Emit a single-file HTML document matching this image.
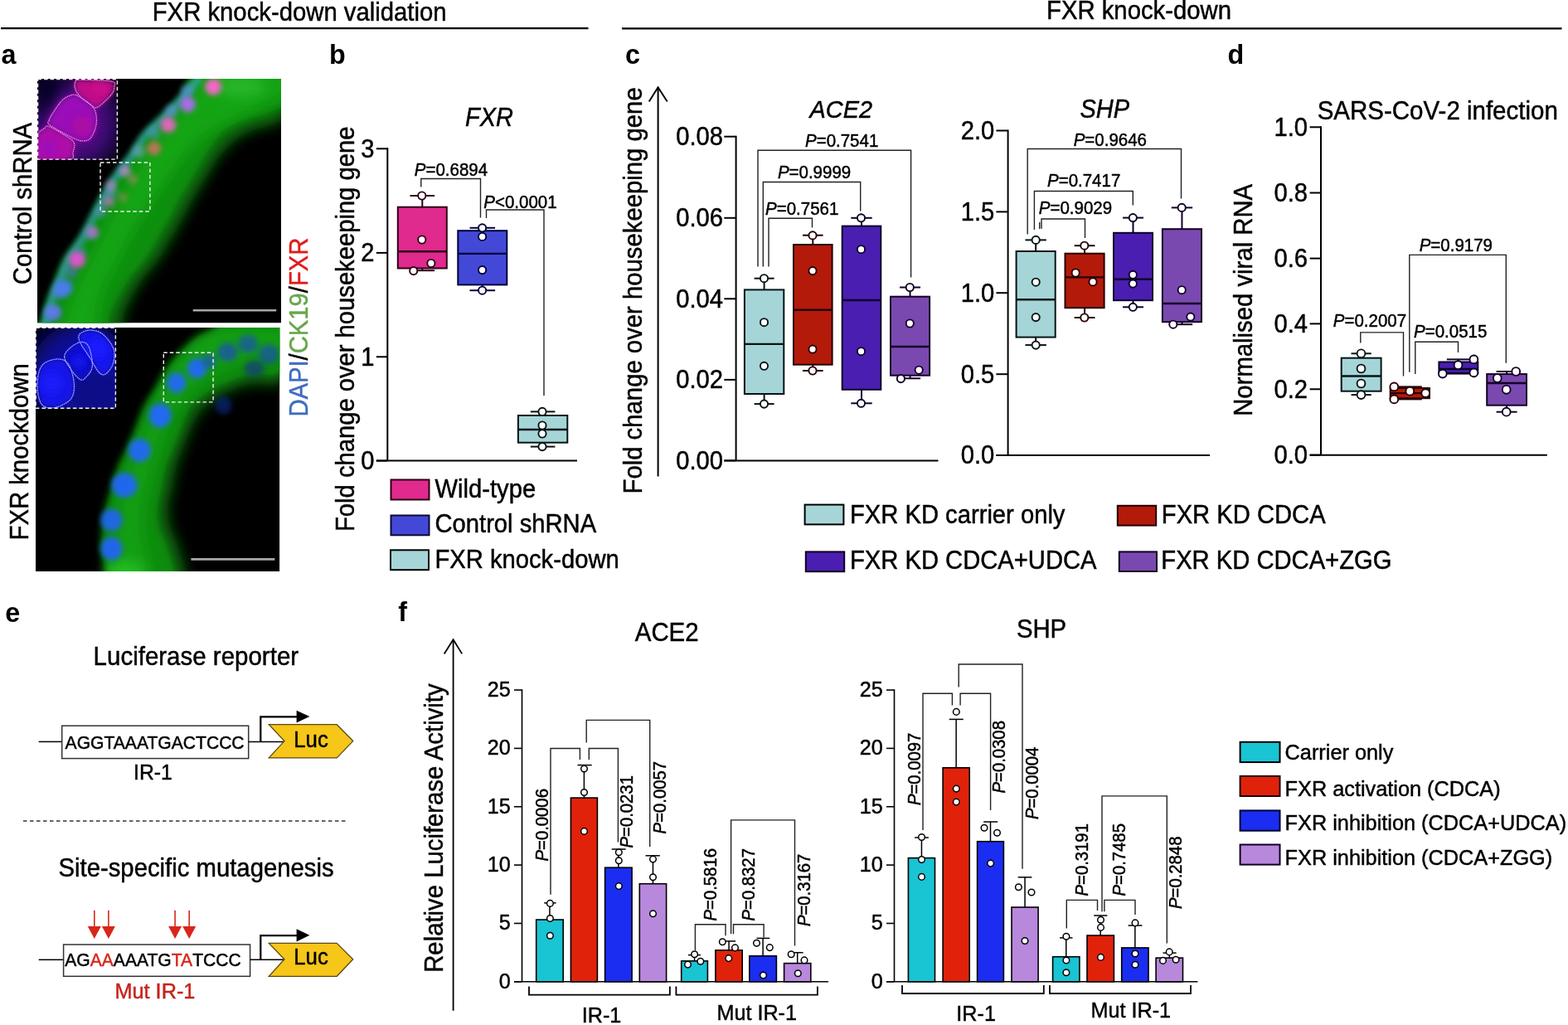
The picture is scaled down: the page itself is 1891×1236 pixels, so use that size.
<!DOCTYPE html>
<html><head><meta charset="utf-8"><title>FXR knock-down figure</title>
<style>
html,body{margin:0;padding:0;background:#fff;}
body{width:1891px;height:1236px;overflow:hidden;}
svg{display:block;}
text{font-family:"Liberation Sans", Arial, Helvetica, sans-serif;}
</style></head>
<body>
<svg width="1891" height="1236" viewBox="0 0 1891 1236" fill="#000">
<rect x="0" y="0" width="1891" height="1236" fill="#fff"/>
<text transform="translate(183.7,24.6) scale(1,1.05)" font-size="29.3" stroke="#000" stroke-width="0.45">FXR knock-down validation</text>
<line x1="1" y1="34.2" x2="709.5" y2="34.2" stroke="#000" stroke-width="2.2"/>
<text transform="translate(1262,23.2) scale(1,1.05)" font-size="29.3" stroke="#000" stroke-width="0.45">FXR knock-down</text>
<line x1="750" y1="34.4" x2="1883.5" y2="34.4" stroke="#000" stroke-width="2.2"/>
<text transform="translate(1.5,77.3) scale(1,1.05)" font-size="32.3" font-weight="bold">a</text>
<text transform="translate(397,77.3) scale(1,1.05)" font-size="32.3" font-weight="bold">b</text>
<text transform="translate(754,76.9) scale(1,1.05)" font-size="32.3" font-weight="bold">c</text>
<text transform="translate(1480.5,76.9) scale(1,1.05)" font-size="32.3" font-weight="bold">d</text>
<text transform="translate(6.3,750) scale(1,1.05)" font-size="32.3" font-weight="bold">e</text>
<text transform="translate(480.3,749) scale(1,1.05)" font-size="32.3" font-weight="bold">f</text>
<line x1="467.3" y1="178.3" x2="467.3" y2="555.6" stroke="#000" stroke-width="2"/>
<line x1="453.8" y1="555.6" x2="696" y2="555.6" stroke="#000" stroke-width="2"/>
<line x1="453.8" y1="179.3" x2="467.3" y2="179.3" stroke="#000" stroke-width="2"/>
<text transform="translate(451.5,189.7) scale(1,1.05)" font-size="29.2" text-anchor="end" stroke="#000" stroke-width="0.45">3</text>
<line x1="453.8" y1="304.9" x2="467.3" y2="304.9" stroke="#000" stroke-width="2"/>
<text transform="translate(451.5,315.3) scale(1,1.05)" font-size="29.2" text-anchor="end" stroke="#000" stroke-width="0.45">2</text>
<line x1="453.8" y1="430.3" x2="467.3" y2="430.3" stroke="#000" stroke-width="2"/>
<text transform="translate(451.5,440.7) scale(1,1.05)" font-size="29.2" text-anchor="end" stroke="#000" stroke-width="0.45">1</text>
<line x1="453.8" y1="555.6" x2="467.3" y2="555.6" stroke="#000" stroke-width="2"/>
<text transform="translate(451.5,566) scale(1,1.05)" font-size="29.2" text-anchor="end" stroke="#000" stroke-width="0.45">0</text>
<text transform="translate(561,151.8) scale(1,1.05)" font-size="29" font-style="italic" stroke="#000" stroke-width="0.45">FXR</text>
<polyline points="507.8,225.6 507.8,215.5 579.5,215.5 579.5,262.6" fill="none" stroke="#222" stroke-width="1.4"/>
<text transform="translate(499.8,212.2) scale(1,1.05)" font-size="20.5" stroke="#000" stroke-width="0.45"><tspan font-style="italic">P</tspan>=0.6894</text>
<polyline points="586.5,263 586.5,253 656,253 656,477" fill="none" stroke="#222" stroke-width="1.4"/>
<text transform="translate(583.3,251) scale(1,1.05)" font-size="20.5" stroke="#000" stroke-width="0.45"><tspan font-style="italic">P</tspan>&lt;0.0001</text>
<line x1="509.3" y1="236" x2="509.3" y2="249.7" stroke="#2e0018" stroke-width="2"/>
<line x1="509.3" y1="323.5" x2="509.3" y2="326.2" stroke="#2e0018" stroke-width="2"/>
<line x1="494.5" y1="236" x2="524.1" y2="236" stroke="#2e0018" stroke-width="2"/>
<line x1="494.5" y1="326.2" x2="524.1" y2="326.2" stroke="#2e0018" stroke-width="2"/>
<rect x="479.8" y="249.7" width="59" height="73.8" fill="#E02A8D" stroke="#2e0018" stroke-width="2"/>
<line x1="479.8" y1="303.3" x2="538.8" y2="303.3" stroke="#2e0018" stroke-width="2.4"/>
<circle cx="508.8" cy="236" r="4.6" fill="#fff" stroke="#2e0018" stroke-width="1.9"/>
<circle cx="508.8" cy="289" r="4.6" fill="#fff" stroke="#2e0018" stroke-width="1.9"/>
<circle cx="519.9" cy="317.5" r="4.6" fill="#fff" stroke="#2e0018" stroke-width="1.9"/>
<circle cx="498.7" cy="326.6" r="4.6" fill="#fff" stroke="#2e0018" stroke-width="1.9"/>
<line x1="581.8" y1="274.8" x2="581.8" y2="278.2" stroke="#00003a" stroke-width="2"/>
<line x1="581.8" y1="343.4" x2="581.8" y2="350.2" stroke="#00003a" stroke-width="2"/>
<line x1="566.5" y1="274.8" x2="597.1" y2="274.8" stroke="#00003a" stroke-width="2"/>
<line x1="566.5" y1="350.2" x2="597.1" y2="350.2" stroke="#00003a" stroke-width="2"/>
<rect x="552.3" y="278.2" width="59" height="65.2" fill="#4349D6" stroke="#00003a" stroke-width="2"/>
<line x1="552.3" y1="305.9" x2="611.3" y2="305.9" stroke="#00003a" stroke-width="2.4"/>
<circle cx="581.6" cy="274.8" r="4.6" fill="#fff" stroke="#00003a" stroke-width="1.9"/>
<circle cx="581.6" cy="285.4" r="4.6" fill="#fff" stroke="#00003a" stroke-width="1.9"/>
<circle cx="581.6" cy="325.6" r="4.6" fill="#fff" stroke="#00003a" stroke-width="1.9"/>
<circle cx="581.6" cy="350.2" r="4.6" fill="#fff" stroke="#00003a" stroke-width="1.9"/>
<line x1="654.6" y1="496.4" x2="654.6" y2="501" stroke="#061414" stroke-width="2"/>
<line x1="654.6" y1="533.7" x2="654.6" y2="538.6" stroke="#061414" stroke-width="2"/>
<line x1="639.8" y1="496.4" x2="669.4" y2="496.4" stroke="#061414" stroke-width="2"/>
<line x1="639.8" y1="538.6" x2="669.4" y2="538.6" stroke="#061414" stroke-width="2"/>
<rect x="624.9" y="501" width="59.4" height="32.7" fill="#A6D5D8" stroke="#061414" stroke-width="2"/>
<line x1="624.9" y1="518" x2="684.3" y2="518" stroke="#061414" stroke-width="2.4"/>
<circle cx="654" cy="496.4" r="4.6" fill="#fff" stroke="#061414" stroke-width="1.9"/>
<circle cx="654" cy="513" r="4.6" fill="#fff" stroke="#061414" stroke-width="1.9"/>
<circle cx="654" cy="523" r="4.6" fill="#fff" stroke="#061414" stroke-width="1.9"/>
<circle cx="654" cy="538.6" r="4.6" fill="#fff" stroke="#061414" stroke-width="1.9"/>
<text transform="translate(427,641) rotate(-90) scale(1,1.05)" font-size="29.2" stroke="#000" stroke-width="0.45">Fold change over housekeeping gene</text>
<text transform="translate(371,502.5) rotate(-90) scale(1,1.05)" font-size="29.2" stroke="#000" stroke-width="0.45"><tspan fill="#3F6CC1" stroke="#3F6CC1">DAPI</tspan>/<tspan fill="#67A64C" stroke="#67A64C">CK19</tspan>/<tspan fill="#E01B1B" stroke="#E01B1B">FXR</tspan></text>
<rect x="471.5" y="578.5" width="46" height="24" fill="#E02A8D" stroke="#2a0015" stroke-width="2"/>
<rect x="471.5" y="621.5" width="46" height="23.8" fill="#4349D6" stroke="#0a0a30" stroke-width="2"/>
<rect x="471" y="663.3" width="46" height="23.9" fill="#A6D5D8" stroke="#000" stroke-width="2"/>
<text transform="translate(524.5,600.2) scale(1,1.05)" font-size="29.2" stroke="#000" stroke-width="0.45">Wild-type</text>
<text transform="translate(524.5,641.8) scale(1,1.05)" font-size="29.2" stroke="#000" stroke-width="0.45">Control shRNA</text>
<text transform="translate(524.5,684.5) scale(1,1.05)" font-size="29.2" stroke="#000" stroke-width="0.45">FXR knock-down</text>
<line x1="793.6" y1="105.5" x2="793.6" y2="574.4" stroke="#000" stroke-width="2"/>
<polyline points="782.7,122.5 793.6,105.3 804.7,122.5" fill="none" stroke="#000" stroke-width="2"/>
<text transform="translate(773.5,595.5) rotate(-90) scale(1,1.05)" font-size="29.3" stroke="#000" stroke-width="0.45">Fold change over housekeeping gene</text>
<line x1="887.6" y1="163.7" x2="887.6" y2="555.4" stroke="#000" stroke-width="2"/>
<line x1="873.3" y1="555.4" x2="1131.5" y2="555.4" stroke="#000" stroke-width="2"/>
<line x1="873.3" y1="164.7" x2="887.6" y2="164.7" stroke="#000" stroke-width="2"/>
<text transform="translate(872,175.1) scale(1,1.05)" font-size="29.2" text-anchor="end" stroke="#000" stroke-width="0.45">0.08</text>
<line x1="873.3" y1="262.8" x2="887.6" y2="262.8" stroke="#000" stroke-width="2"/>
<text transform="translate(872,273.2) scale(1,1.05)" font-size="29.2" text-anchor="end" stroke="#000" stroke-width="0.45">0.06</text>
<line x1="873.3" y1="360.3" x2="887.6" y2="360.3" stroke="#000" stroke-width="2"/>
<text transform="translate(872,370.7) scale(1,1.05)" font-size="29.2" text-anchor="end" stroke="#000" stroke-width="0.45">0.04</text>
<line x1="873.3" y1="457.9" x2="887.6" y2="457.9" stroke="#000" stroke-width="2"/>
<text transform="translate(872,468.3) scale(1,1.05)" font-size="29.2" text-anchor="end" stroke="#000" stroke-width="0.45">0.02</text>
<line x1="873.3" y1="555.4" x2="887.6" y2="555.4" stroke="#000" stroke-width="2"/>
<text transform="translate(872,565.8) scale(1,1.05)" font-size="29.2" text-anchor="end" stroke="#000" stroke-width="0.45">0.00</text>
<text transform="translate(976.5,141.9) scale(1,1.05)" font-size="28.9" font-style="italic" stroke="#000" stroke-width="0.45">ACE2</text>
<polyline points="914,321.4 914,181.2 1098.6,181.2 1098.6,334.4" fill="none" stroke="#222" stroke-width="1.4"/>
<text transform="translate(971,177.3) scale(1,1.05)" font-size="20.5" stroke="#000" stroke-width="0.45"><tspan font-style="italic">P</tspan>=0.7541</text>
<polyline points="920.3,321.4 920.3,219.5 1037.7,219.5 1037.7,254.5" fill="none" stroke="#222" stroke-width="1.4"/>
<text transform="translate(937.9,215.4) scale(1,1.05)" font-size="20.5" stroke="#000" stroke-width="0.45"><tspan font-style="italic">P</tspan>=0.9999</text>
<polyline points="927,321.4 927,263.3 979.5,263.3 979.5,274.4" fill="none" stroke="#222" stroke-width="1.4"/>
<text transform="translate(923.1,259) scale(1,1.05)" font-size="20.5" stroke="#000" stroke-width="0.45"><tspan font-style="italic">P</tspan>=0.7561</text>
<line x1="921.6" y1="335.7" x2="921.6" y2="349.4" stroke="#061414" stroke-width="2"/>
<line x1="921.6" y1="475" x2="921.6" y2="487.1" stroke="#061414" stroke-width="2"/>
<line x1="909.6" y1="335.7" x2="933.6" y2="335.7" stroke="#061414" stroke-width="2"/>
<line x1="909.6" y1="487.1" x2="933.6" y2="487.1" stroke="#061414" stroke-width="2"/>
<rect x="897.9" y="349.4" width="47.4" height="125.6" fill="#A6D5D8" stroke="#061414" stroke-width="2"/>
<line x1="897.9" y1="414.9" x2="945.3" y2="414.9" stroke="#061414" stroke-width="2.4"/>
<circle cx="921.5" cy="335.7" r="4.6" fill="#fff" stroke="#061414" stroke-width="1.9"/>
<circle cx="921.5" cy="388.7" r="4.6" fill="#fff" stroke="#061414" stroke-width="1.9"/>
<circle cx="921.5" cy="441.3" r="4.6" fill="#fff" stroke="#061414" stroke-width="1.9"/>
<circle cx="921.5" cy="487.1" r="4.6" fill="#fff" stroke="#061414" stroke-width="1.9"/>
<line x1="980.3" y1="283.7" x2="980.3" y2="295" stroke="#260000" stroke-width="2"/>
<line x1="980.3" y1="439.7" x2="980.3" y2="447" stroke="#260000" stroke-width="2"/>
<line x1="968" y1="283.7" x2="992.6" y2="283.7" stroke="#260000" stroke-width="2"/>
<line x1="968" y1="447" x2="992.6" y2="447" stroke="#260000" stroke-width="2"/>
<rect x="957" y="295" width="46.6" height="144.7" fill="#B31A0A" stroke="#260000" stroke-width="2"/>
<line x1="957" y1="373.7" x2="1003.6" y2="373.7" stroke="#260000" stroke-width="2.4"/>
<circle cx="980" cy="283.9" r="4.6" fill="#fff" stroke="#260000" stroke-width="1.9"/>
<circle cx="980" cy="326.6" r="4.6" fill="#fff" stroke="#260000" stroke-width="1.9"/>
<circle cx="980" cy="421.1" r="4.6" fill="#fff" stroke="#260000" stroke-width="1.9"/>
<circle cx="980" cy="447" r="4.6" fill="#fff" stroke="#260000" stroke-width="1.9"/>
<line x1="1039" y1="262.8" x2="1039" y2="272.6" stroke="#0c0028" stroke-width="2"/>
<line x1="1039" y1="469.8" x2="1039" y2="486.3" stroke="#0c0028" stroke-width="2"/>
<line x1="1026.3" y1="262.8" x2="1051.7" y2="262.8" stroke="#0c0028" stroke-width="2"/>
<line x1="1026.3" y1="486.3" x2="1051.7" y2="486.3" stroke="#0c0028" stroke-width="2"/>
<rect x="1015.7" y="272.6" width="46.6" height="197.2" fill="#4A1EB0" stroke="#0c0028" stroke-width="2"/>
<line x1="1015.7" y1="362" x2="1062.3" y2="362" stroke="#0c0028" stroke-width="2.4"/>
<circle cx="1038.5" cy="262.8" r="4.6" fill="#fff" stroke="#0c0028" stroke-width="1.9"/>
<circle cx="1038.5" cy="300.7" r="4.6" fill="#fff" stroke="#0c0028" stroke-width="1.9"/>
<circle cx="1038.5" cy="423.7" r="4.6" fill="#fff" stroke="#0c0028" stroke-width="1.9"/>
<circle cx="1038.5" cy="486.3" r="4.6" fill="#fff" stroke="#0c0028" stroke-width="1.9"/>
<line x1="1097.55" y1="346.5" x2="1097.55" y2="357.7" stroke="#140028" stroke-width="2"/>
<line x1="1097.55" y1="452.7" x2="1097.55" y2="456.3" stroke="#140028" stroke-width="2"/>
<line x1="1085.05" y1="346.5" x2="1110.05" y2="346.5" stroke="#140028" stroke-width="2"/>
<line x1="1085.05" y1="456.3" x2="1110.05" y2="456.3" stroke="#140028" stroke-width="2"/>
<rect x="1074" y="357.7" width="47.1" height="95" fill="#7A49AF" stroke="#140028" stroke-width="2"/>
<line x1="1074" y1="418" x2="1121.1" y2="418" stroke="#140028" stroke-width="2.4"/>
<circle cx="1097.3" cy="346.5" r="4.6" fill="#fff" stroke="#140028" stroke-width="1.9"/>
<circle cx="1097.3" cy="390" r="4.6" fill="#fff" stroke="#140028" stroke-width="1.9"/>
<circle cx="1108.2" cy="446.2" r="4.6" fill="#fff" stroke="#140028" stroke-width="1.9"/>
<circle cx="1086.4" cy="456.6" r="4.6" fill="#fff" stroke="#140028" stroke-width="1.9"/>
<line x1="1215.6" y1="156.5" x2="1215.6" y2="549" stroke="#000" stroke-width="2"/>
<line x1="1201.4" y1="549" x2="1459" y2="549" stroke="#000" stroke-width="2"/>
<line x1="1201.4" y1="157.5" x2="1215.6" y2="157.5" stroke="#000" stroke-width="2"/>
<text transform="translate(1199.3,167.9) scale(1,1.05)" font-size="29.2" text-anchor="end" stroke="#000" stroke-width="0.45">2.0</text>
<line x1="1201.4" y1="255.4" x2="1215.6" y2="255.4" stroke="#000" stroke-width="2"/>
<text transform="translate(1199.3,265.8) scale(1,1.05)" font-size="29.2" text-anchor="end" stroke="#000" stroke-width="0.45">1.5</text>
<line x1="1201.4" y1="353.2" x2="1215.6" y2="353.2" stroke="#000" stroke-width="2"/>
<text transform="translate(1199.3,363.6) scale(1,1.05)" font-size="29.2" text-anchor="end" stroke="#000" stroke-width="0.45">1.0</text>
<line x1="1201.4" y1="451.2" x2="1215.6" y2="451.2" stroke="#000" stroke-width="2"/>
<text transform="translate(1199.3,461.6) scale(1,1.05)" font-size="29.2" text-anchor="end" stroke="#000" stroke-width="0.45">0.5</text>
<line x1="1201.4" y1="549" x2="1215.6" y2="549" stroke="#000" stroke-width="2"/>
<text transform="translate(1199.3,559.4) scale(1,1.05)" font-size="29.2" text-anchor="end" stroke="#000" stroke-width="0.45">0.0</text>
<text transform="translate(1302.5,141.7) scale(1,1.05)" font-size="29" font-style="italic" stroke="#000" stroke-width="0.45">SHP</text>
<polyline points="1239.2,282.6 1239.2,179.5 1424.5,179.5 1424.5,239.5" fill="none" stroke="#222" stroke-width="1.4"/>
<text transform="translate(1294.7,176) scale(1,1.05)" font-size="20.5" stroke="#000" stroke-width="0.45"><tspan font-style="italic">P</tspan>=0.9646</text>
<polyline points="1247.4,276.9 1247.4,230.5 1366.3,230.5 1366.3,247.5" fill="none" stroke="#222" stroke-width="1.4"/>
<text transform="translate(1263,225.2) scale(1,1.05)" font-size="20.5" stroke="#000" stroke-width="0.45"><tspan font-style="italic">P</tspan>=0.7417</text>
<polyline points="1256,275.8 1256,264 1308.5,264 1308.5,287.1" fill="none" stroke="#222" stroke-width="1.4"/>
<line x1="1253.7" y1="268" x2="1253.7" y2="276" stroke="#222" stroke-width="1.4"/>
<text transform="translate(1252.8,257.6) scale(1,1.05)" font-size="20.5" stroke="#000" stroke-width="0.45"><tspan font-style="italic">P</tspan>=0.9029</text>
<line x1="1249.15" y1="289.4" x2="1249.15" y2="303" stroke="#061414" stroke-width="2"/>
<line x1="1249.15" y1="406.6" x2="1249.15" y2="416.1" stroke="#061414" stroke-width="2"/>
<line x1="1236.45" y1="289.4" x2="1261.85" y2="289.4" stroke="#061414" stroke-width="2"/>
<line x1="1236.45" y1="416.1" x2="1261.85" y2="416.1" stroke="#061414" stroke-width="2"/>
<rect x="1225.6" y="303" width="47.1" height="103.6" fill="#A6D5D8" stroke="#061414" stroke-width="2"/>
<line x1="1225.6" y1="361.3" x2="1272.7" y2="361.3" stroke="#061414" stroke-width="2.4"/>
<circle cx="1249.2" cy="289.4" r="4.6" fill="#fff" stroke="#061414" stroke-width="1.9"/>
<circle cx="1249.2" cy="340.2" r="4.6" fill="#fff" stroke="#061414" stroke-width="1.9"/>
<circle cx="1249.2" cy="382.6" r="4.6" fill="#fff" stroke="#061414" stroke-width="1.9"/>
<circle cx="1249.2" cy="416.1" r="4.6" fill="#fff" stroke="#061414" stroke-width="1.9"/>
<line x1="1308.05" y1="296.2" x2="1308.05" y2="305.7" stroke="#260000" stroke-width="2"/>
<line x1="1308.05" y1="371.2" x2="1308.05" y2="383" stroke="#260000" stroke-width="2"/>
<line x1="1295.65" y1="296.2" x2="1320.45" y2="296.2" stroke="#260000" stroke-width="2"/>
<line x1="1295.65" y1="383" x2="1320.45" y2="383" stroke="#260000" stroke-width="2"/>
<rect x="1284.5" y="305.7" width="47.1" height="65.5" fill="#B31A0A" stroke="#260000" stroke-width="2"/>
<line x1="1284.5" y1="334.4" x2="1331.6" y2="334.4" stroke="#260000" stroke-width="2.4"/>
<circle cx="1307.8" cy="296.2" r="4.6" fill="#fff" stroke="#260000" stroke-width="1.9"/>
<circle cx="1297.2" cy="329" r="4.6" fill="#fff" stroke="#260000" stroke-width="1.9"/>
<circle cx="1318" cy="339.9" r="4.6" fill="#fff" stroke="#260000" stroke-width="1.9"/>
<circle cx="1307.8" cy="383" r="4.6" fill="#fff" stroke="#260000" stroke-width="1.9"/>
<line x1="1366.5" y1="262.6" x2="1366.5" y2="280.8" stroke="#0c0028" stroke-width="2"/>
<line x1="1366.5" y1="362.2" x2="1366.5" y2="370.3" stroke="#0c0028" stroke-width="2"/>
<line x1="1354" y1="262.6" x2="1379" y2="262.6" stroke="#0c0028" stroke-width="2"/>
<line x1="1354" y1="370.3" x2="1379" y2="370.3" stroke="#0c0028" stroke-width="2"/>
<rect x="1343" y="280.8" width="47" height="81.4" fill="#4A1EB0" stroke="#0c0028" stroke-width="2"/>
<line x1="1343" y1="336.7" x2="1390" y2="336.7" stroke="#0c0028" stroke-width="2.4"/>
<circle cx="1366.3" cy="262.6" r="4.6" fill="#fff" stroke="#0c0028" stroke-width="1.9"/>
<circle cx="1366.3" cy="331.3" r="4.6" fill="#fff" stroke="#0c0028" stroke-width="1.9"/>
<circle cx="1366.3" cy="342.1" r="4.6" fill="#fff" stroke="#0c0028" stroke-width="1.9"/>
<circle cx="1366.3" cy="370.3" r="4.6" fill="#fff" stroke="#0c0028" stroke-width="1.9"/>
<line x1="1425.45" y1="250.4" x2="1425.45" y2="276.2" stroke="#140028" stroke-width="2"/>
<line x1="1425.45" y1="388.2" x2="1425.45" y2="391.2" stroke="#140028" stroke-width="2"/>
<line x1="1412.75" y1="250.4" x2="1438.15" y2="250.4" stroke="#140028" stroke-width="2"/>
<line x1="1412.75" y1="391.2" x2="1438.15" y2="391.2" stroke="#140028" stroke-width="2"/>
<rect x="1401.9" y="276.2" width="47.1" height="112" fill="#7A49AF" stroke="#140028" stroke-width="2"/>
<line x1="1401.9" y1="366" x2="1449" y2="366" stroke="#140028" stroke-width="2.4"/>
<circle cx="1425.2" cy="250.4" r="4.6" fill="#fff" stroke="#140028" stroke-width="1.9"/>
<circle cx="1425.2" cy="349.7" r="4.6" fill="#fff" stroke="#140028" stroke-width="1.9"/>
<circle cx="1435.8" cy="382.1" r="4.6" fill="#fff" stroke="#140028" stroke-width="1.9"/>
<circle cx="1414.8" cy="391.2" r="4.6" fill="#fff" stroke="#140028" stroke-width="1.9"/>
<rect x="970.6" y="608.6" width="46.8" height="23.8" fill="#A6D5D8" stroke="#000" stroke-width="2"/>
<rect x="1347.8" y="609.8" width="46.4" height="23.8" fill="#B31A0A" stroke="#200005" stroke-width="2"/>
<rect x="971.8" y="665.4" width="46.4" height="23.8" fill="#4A1EB0" stroke="#100020" stroke-width="2"/>
<rect x="1349.8" y="665.4" width="45.2" height="23.6" fill="#7A49AF" stroke="#100020" stroke-width="2"/>
<text transform="translate(1025,630.5) scale(1,1.05)" font-size="29.2" stroke="#000" stroke-width="0.45">FXR KD carrier only</text>
<text transform="translate(1400.8,630.8) scale(1,1.05)" font-size="29.2" stroke="#000" stroke-width="0.45">FXR KD CDCA</text>
<text transform="translate(1025,686) scale(1,1.05)" font-size="29.2" stroke="#000" stroke-width="0.45">FXR KD CDCA+UDCA</text>
<text transform="translate(1400.3,686.2) scale(1,1.05)" font-size="29.2" stroke="#000" stroke-width="0.45">FXR KD CDCA+ZGG</text>
<line x1="1593" y1="152.3" x2="1593" y2="548.7" stroke="#000" stroke-width="2"/>
<line x1="1579.6" y1="548.7" x2="1865.8" y2="548.7" stroke="#000" stroke-width="2"/>
<line x1="1579.6" y1="153.3" x2="1593" y2="153.3" stroke="#000" stroke-width="2"/>
<text transform="translate(1577,163.7) scale(1,1.05)" font-size="29.2" text-anchor="end" stroke="#000" stroke-width="0.45">1.0</text>
<line x1="1579.6" y1="232.5" x2="1593" y2="232.5" stroke="#000" stroke-width="2"/>
<text transform="translate(1577,242.9) scale(1,1.05)" font-size="29.2" text-anchor="end" stroke="#000" stroke-width="0.45">0.8</text>
<line x1="1579.6" y1="311.6" x2="1593" y2="311.6" stroke="#000" stroke-width="2"/>
<text transform="translate(1577,322) scale(1,1.05)" font-size="29.2" text-anchor="end" stroke="#000" stroke-width="0.45">0.6</text>
<line x1="1579.6" y1="390.4" x2="1593" y2="390.4" stroke="#000" stroke-width="2"/>
<text transform="translate(1577,400.8) scale(1,1.05)" font-size="29.2" text-anchor="end" stroke="#000" stroke-width="0.45">0.4</text>
<line x1="1579.6" y1="469.3" x2="1593" y2="469.3" stroke="#000" stroke-width="2"/>
<text transform="translate(1577,479.7) scale(1,1.05)" font-size="29.2" text-anchor="end" stroke="#000" stroke-width="0.45">0.2</text>
<line x1="1579.6" y1="548.7" x2="1593" y2="548.7" stroke="#000" stroke-width="2"/>
<text transform="translate(1577,559.1) scale(1,1.05)" font-size="29.2" text-anchor="end" stroke="#000" stroke-width="0.45">0.0</text>
<text transform="translate(1588.7,143.9) scale(1,1.05)" font-size="29.5" stroke="#000" stroke-width="0.45">SARS-CoV-2 infection</text>
<text transform="translate(1509.8,501.8) rotate(-90) scale(1,1.05)" font-size="29.3" stroke="#000" stroke-width="0.45">Normalised viral RNA</text>
<polyline points="1640.8,413.5 1640.8,400.9 1692.5,400.9 1692.5,453.5" fill="none" stroke="#222" stroke-width="1.4"/>
<text transform="translate(1607.8,394) scale(1,1.05)" font-size="20.5" stroke="#000" stroke-width="0.45"><tspan font-style="italic">P</tspan>=0.2007</text>
<polyline points="1706.8,451 1706.8,412.3 1758.5,412.3 1758.5,424.9" fill="none" stroke="#222" stroke-width="1.4"/>
<text transform="translate(1705.1,407.4) scale(1,1.05)" font-size="20.5" stroke="#000" stroke-width="0.45"><tspan font-style="italic">P</tspan>=0.0515</text>
<polyline points="1699.8,448.7 1699.8,307.4 1816.3,307.4 1816.3,437.7" fill="none" stroke="#222" stroke-width="1.4"/>
<text transform="translate(1711.7,303.3) scale(1,1.05)" font-size="20.5" stroke="#000" stroke-width="0.45"><tspan font-style="italic">P</tspan>=0.9179</text>
<line x1="1641.65" y1="426.3" x2="1641.65" y2="431.7" stroke="#061414" stroke-width="2"/>
<line x1="1641.65" y1="471.7" x2="1641.65" y2="476.1" stroke="#061414" stroke-width="2"/>
<line x1="1629.55" y1="426.3" x2="1653.75" y2="426.3" stroke="#061414" stroke-width="2"/>
<line x1="1629.55" y1="476.1" x2="1653.75" y2="476.1" stroke="#061414" stroke-width="2"/>
<rect x="1617.7" y="431.7" width="47.9" height="40" fill="#A6D5D8" stroke="#061414" stroke-width="2"/>
<line x1="1617.7" y1="453.5" x2="1665.6" y2="453.5" stroke="#061414" stroke-width="2.4"/>
<circle cx="1641.5" cy="426.3" r="4.9" fill="#fff" stroke="#061414" stroke-width="1.9"/>
<circle cx="1641.5" cy="444.5" r="4.9" fill="#fff" stroke="#061414" stroke-width="1.9"/>
<circle cx="1641.5" cy="462.5" r="4.9" fill="#fff" stroke="#061414" stroke-width="1.9"/>
<circle cx="1641.5" cy="476.1" r="4.9" fill="#fff" stroke="#061414" stroke-width="1.9"/>
<line x1="1700.35" y1="466.4" x2="1700.35" y2="468" stroke="#260000" stroke-width="2"/>
<line x1="1700.35" y1="480.2" x2="1700.35" y2="481.4" stroke="#260000" stroke-width="2"/>
<line x1="1685.85" y1="466.4" x2="1714.85" y2="466.4" stroke="#260000" stroke-width="2"/>
<line x1="1685.85" y1="481.4" x2="1714.85" y2="481.4" stroke="#260000" stroke-width="2"/>
<rect x="1676.7" y="468" width="47.3" height="12.2" fill="#B31A0A" stroke="#260000" stroke-width="2"/>
<line x1="1676.7" y1="474.1" x2="1724" y2="474.1" stroke="#260000" stroke-width="2.4"/>
<circle cx="1681.3" cy="466.4" r="4.9" fill="#fff" stroke="#260000" stroke-width="1.9"/>
<circle cx="1681.3" cy="481.4" r="4.9" fill="#fff" stroke="#260000" stroke-width="1.9"/>
<circle cx="1700.3" cy="471.7" r="4.9" fill="#fff" stroke="#260000" stroke-width="1.9"/>
<circle cx="1719.2" cy="474.1" r="4.9" fill="#fff" stroke="#260000" stroke-width="1.9"/>
<line x1="1758.85" y1="433.4" x2="1758.85" y2="436.5" stroke="#0c0028" stroke-width="2"/>
<line x1="1758.85" y1="449.9" x2="1758.85" y2="450.6" stroke="#0c0028" stroke-width="2"/>
<line x1="1744.85" y1="433.4" x2="1772.85" y2="433.4" stroke="#0c0028" stroke-width="2"/>
<line x1="1744.85" y1="450.6" x2="1772.85" y2="450.6" stroke="#0c0028" stroke-width="2"/>
<rect x="1735.4" y="436.5" width="46.9" height="13.4" fill="#4A1EB0" stroke="#0c0028" stroke-width="2"/>
<line x1="1735.4" y1="445" x2="1782.3" y2="445" stroke="#0c0028" stroke-width="2.4"/>
<circle cx="1739.8" cy="450.6" r="4.9" fill="#fff" stroke="#0c0028" stroke-width="1.9"/>
<circle cx="1758.5" cy="440.2" r="4.9" fill="#fff" stroke="#0c0028" stroke-width="1.9"/>
<circle cx="1777.4" cy="433.4" r="4.9" fill="#fff" stroke="#0c0028" stroke-width="1.9"/>
<circle cx="1777.4" cy="449.4" r="4.9" fill="#fff" stroke="#0c0028" stroke-width="1.9"/>
<line x1="1817.1" y1="448" x2="1817.1" y2="451.1" stroke="#140028" stroke-width="2"/>
<line x1="1817.1" y1="488.7" x2="1817.1" y2="496.7" stroke="#140028" stroke-width="2"/>
<line x1="1804.6" y1="448" x2="1829.6" y2="448" stroke="#140028" stroke-width="2"/>
<line x1="1804.6" y1="496.7" x2="1829.6" y2="496.7" stroke="#140028" stroke-width="2"/>
<rect x="1793.2" y="451.1" width="47.8" height="37.6" fill="#7A49AF" stroke="#140028" stroke-width="2"/>
<line x1="1793.2" y1="462" x2="1841" y2="462" stroke="#140028" stroke-width="2.4"/>
<circle cx="1805.8" cy="456" r="4.9" fill="#fff" stroke="#140028" stroke-width="1.9"/>
<circle cx="1816.7" cy="469.8" r="4.9" fill="#fff" stroke="#140028" stroke-width="1.9"/>
<circle cx="1828.2" cy="448" r="4.9" fill="#fff" stroke="#140028" stroke-width="1.9"/>
<circle cx="1816.7" cy="496.7" r="4.9" fill="#fff" stroke="#140028" stroke-width="1.9"/>
<text transform="translate(112.6,802.2) scale(1,1.05)" font-size="29.5" stroke="#000" stroke-width="0.45">Luciferase reporter</text>
<text transform="translate(70.5,1057.1) scale(1,1.05)" font-size="29.3" stroke="#000" stroke-width="0.45">Site-specific mutagenesis</text>
<line x1="28" y1="990" x2="418" y2="990" stroke="#333" stroke-width="1.3" stroke-dasharray="4.5 3.5"/>
<line x1="46.7" y1="894.4" x2="74.7" y2="894.4" stroke="#000" stroke-width="1.5"/>
<rect x="74.7" y="875.2" width="225" height="39.4" fill="#fff" stroke="#333" stroke-width="1.5"/>
<line x1="299.7" y1="894.4" x2="343" y2="894.4" stroke="#000" stroke-width="1.5"/>
<polyline points="314.3,894.4 314.3,864.3 359,864.3" fill="none" stroke="#000" stroke-width="2.2"/>
<polygon points="357.6,856.7 373.4,864.1 357.6,871.5" fill="#000"/>
<text transform="translate(78.6,902.6) scale(1,1.05)" font-size="21.1" stroke="#000" stroke-width="0.45">AGGTAAATGACTCCC</text>
<polygon points="324.3,873.7 406.2,873.7 425.7,893.6 406.2,913.9 324.3,913.9 343,893.6" fill="#F6C619" stroke="#5a4a10" stroke-width="1.3"/>
<text transform="translate(354.2,900.5) scale(1,1.05)" font-size="25.8" stroke="#000" stroke-width="0.45">Luc</text>
<text transform="translate(161,940.2) scale(1,1.05)" font-size="24.8" stroke="#000" stroke-width="0.45">IR-1</text>
<line x1="46.7" y1="1157.3" x2="76.6" y2="1157.3" stroke="#000" stroke-width="1.5"/>
<rect x="76.6" y="1139" width="225" height="38.3" fill="#fff" stroke="#333" stroke-width="1.5"/>
<line x1="301.6" y1="1157.3" x2="343" y2="1157.3" stroke="#000" stroke-width="1.5"/>
<polyline points="314.3,1157.3 314.3,1128.1 359,1128.1" fill="none" stroke="#000" stroke-width="2.2"/>
<polygon points="357.6,1120.3 373.4,1127.85 357.6,1135.4" fill="#000"/>
<text transform="translate(78.2,1164.8) scale(1,1.05)" font-size="21.1" stroke="#000" stroke-width="0.45">AG<tspan fill="#D8261A" stroke="#D8261A">AA</tspan>AAATG<tspan fill="#D8261A" stroke="#D8261A">TA</tspan>TCCC</text>
<polygon points="324.3,1137.4 406.2,1137.4 425.7,1156.8 406.2,1177.3 324.3,1177.3 343,1156.8" fill="#F6C619" stroke="#5a4a10" stroke-width="1.3"/>
<text transform="translate(354.2,1163.4) scale(1,1.05)" font-size="25.8" stroke="#000" stroke-width="0.45">Luc</text>
<text transform="translate(138.4,1203.5) scale(1,1.05)" font-size="25.3" fill="#C8231A" stroke="#C8231A" stroke-width="0.45">Mut IR-1</text>
<line x1="113.8" y1="1097.7" x2="113.8" y2="1118" stroke="#D8261A" stroke-width="1.6"/>
<polygon points="105.8,1117 121.8,1117 113.8,1132" fill="#D8261A"/>
<line x1="130.9" y1="1097.7" x2="130.9" y2="1118" stroke="#D8261A" stroke-width="1.6"/>
<polygon points="122.9,1117 138.9,1117 130.9,1132" fill="#D8261A"/>
<line x1="211.1" y1="1097.7" x2="211.1" y2="1118" stroke="#D8261A" stroke-width="1.6"/>
<polygon points="203.1,1117 219.1,1117 211.1,1132" fill="#D8261A"/>
<line x1="228.2" y1="1097.7" x2="228.2" y2="1118" stroke="#D8261A" stroke-width="1.6"/>
<polygon points="220.2,1117 236.2,1117 228.2,1132" fill="#D8261A"/>
<line x1="546.6" y1="771.5" x2="546.6" y2="1218.7" stroke="#000" stroke-width="1.8"/>
<polyline points="535.7,788.4 546.6,771.3 557.2,788.4" fill="none" stroke="#000" stroke-width="1.8"/>
<text transform="translate(534.2,1172.8) rotate(-90) scale(1,1.05)" font-size="29.3" stroke="#000" stroke-width="0.45">Relative Luciferase Activity</text>
<text transform="translate(765.8,772.6) scale(1,1.05)" font-size="29.4" stroke="#000" stroke-width="0.45">ACE2</text>
<polyline points="664,1078.7 664,902.5 699.4,902.5 699.4,916" fill="none" stroke="#222" stroke-width="1.4"/>
<polyline points="710.3,916 710.3,902.5 745.4,902.5 745.4,1015.4" fill="none" stroke="#222" stroke-width="1.4"/>
<polyline points="707.2,895.6 707.2,868.4 783.7,868.4 783.7,1021" fill="none" stroke="#222" stroke-width="1.4"/>
<polyline points="838.4,1146 838.4,1114.7 875,1114.7 875,1128.2" fill="none" stroke="#222" stroke-width="1.4"/>
<polyline points="884.5,1126.2 884.5,1114.7 921.1,1114.7 921.1,1130.5" fill="none" stroke="#222" stroke-width="1.4"/>
<polyline points="881.6,1126 881.6,988.9 958.5,988.9 958.5,1140.6" fill="none" stroke="#222" stroke-width="1.4"/>
<line x1="629.5" y1="831.25" x2="629.5" y2="1183.8" stroke="#000" stroke-width="1.6"/>
<line x1="620" y1="1183.8" x2="999" y2="1183.8" stroke="#000" stroke-width="1.6"/>
<line x1="620" y1="832.05" x2="629.5" y2="832.05" stroke="#000" stroke-width="1.6"/>
<text transform="translate(615.8,839.95) scale(1,1.05)" font-size="25.2" text-anchor="end" stroke="#000" stroke-width="0.45">25</text>
<line x1="620" y1="902.4" x2="629.5" y2="902.4" stroke="#000" stroke-width="1.6"/>
<text transform="translate(615.8,910.3) scale(1,1.05)" font-size="25.2" text-anchor="end" stroke="#000" stroke-width="0.45">20</text>
<line x1="620" y1="972.75" x2="629.5" y2="972.75" stroke="#000" stroke-width="1.6"/>
<text transform="translate(615.8,980.65) scale(1,1.05)" font-size="25.2" text-anchor="end" stroke="#000" stroke-width="0.45">15</text>
<line x1="620" y1="1043.1" x2="629.5" y2="1043.1" stroke="#000" stroke-width="1.6"/>
<text transform="translate(615.8,1051) scale(1,1.05)" font-size="25.2" text-anchor="end" stroke="#000" stroke-width="0.45">10</text>
<line x1="620" y1="1113.45" x2="629.5" y2="1113.45" stroke="#000" stroke-width="1.6"/>
<text transform="translate(615.8,1121.35) scale(1,1.05)" font-size="25.2" text-anchor="end" stroke="#000" stroke-width="0.45">5</text>
<line x1="620" y1="1183.8" x2="629.5" y2="1183.8" stroke="#000" stroke-width="1.6"/>
<text transform="translate(615.8,1191.7) scale(1,1.05)" font-size="25.2" text-anchor="end" stroke="#000" stroke-width="0.45">0</text>
<line x1="662.95" y1="1109" x2="662.95" y2="1088.8" stroke="#000" stroke-width="1.5"/>
<line x1="656.2" y1="1088.8" x2="670.6" y2="1088.8" stroke="#000" stroke-width="1.5"/>
<rect x="646.7" y="1109" width="32.5" height="74.8" fill="#19C4D3" stroke="#000" stroke-width="1.6"/>
<circle cx="663.4" cy="1089.4" r="3.8" fill="#fff" stroke="#000" stroke-width="1.5"/>
<circle cx="663.4" cy="1107.5" r="3.8" fill="#fff" stroke="#000" stroke-width="1.5"/>
<circle cx="663.4" cy="1128.2" r="3.8" fill="#fff" stroke="#000" stroke-width="1.5"/>
<line x1="704.4" y1="962.1" x2="704.4" y2="922.6" stroke="#000" stroke-width="1.5"/>
<line x1="696.5" y1="922.6" x2="713.7" y2="922.6" stroke="#000" stroke-width="1.5"/>
<rect x="688.4" y="962.1" width="32" height="221.7" fill="#E0220A" stroke="#000" stroke-width="1.6"/>
<circle cx="704.5" cy="927" r="3.8" fill="#fff" stroke="#000" stroke-width="1.5"/>
<circle cx="704.5" cy="955.5" r="3.8" fill="#fff" stroke="#000" stroke-width="1.5"/>
<circle cx="704.5" cy="1002.4" r="3.8" fill="#fff" stroke="#000" stroke-width="1.5"/>
<line x1="745.85" y1="1046.2" x2="745.85" y2="1024" stroke="#000" stroke-width="1.5"/>
<line x1="737.7" y1="1024" x2="754.6" y2="1024" stroke="#000" stroke-width="1.5"/>
<rect x="729.6" y="1046.2" width="32.5" height="137.6" fill="#1A2DF0" stroke="#000" stroke-width="1.6"/>
<circle cx="746.3" cy="1027.7" r="3.8" fill="#fff" stroke="#000" stroke-width="1.5"/>
<circle cx="746.3" cy="1037.8" r="3.8" fill="#fff" stroke="#000" stroke-width="1.5"/>
<circle cx="746.3" cy="1068.6" r="3.8" fill="#fff" stroke="#000" stroke-width="1.5"/>
<line x1="787.45" y1="1065.7" x2="787.45" y2="1031.8" stroke="#000" stroke-width="1.5"/>
<line x1="778.5" y1="1031.8" x2="795.8" y2="1031.8" stroke="#000" stroke-width="1.5"/>
<rect x="771.3" y="1065.7" width="32.3" height="118.1" fill="#B888DC" stroke="#000" stroke-width="1.6"/>
<circle cx="787.5" cy="1036.1" r="3.8" fill="#fff" stroke="#000" stroke-width="1.5"/>
<circle cx="787.5" cy="1057.7" r="3.8" fill="#fff" stroke="#000" stroke-width="1.5"/>
<circle cx="787.5" cy="1101.7" r="3.8" fill="#fff" stroke="#000" stroke-width="1.5"/>
<line x1="837.55" y1="1158.8" x2="837.55" y2="1151.6" stroke="#000" stroke-width="1.5"/>
<line x1="830" y1="1151.6" x2="845" y2="1151.6" stroke="#000" stroke-width="1.5"/>
<rect x="821.7" y="1158.8" width="31.7" height="25" fill="#19C4D3" stroke="#000" stroke-width="1.6"/>
<circle cx="837.6" cy="1150.7" r="3.8" fill="#fff" stroke="#000" stroke-width="1.5"/>
<circle cx="829.5" cy="1163.1" r="3.8" fill="#fff" stroke="#000" stroke-width="1.5"/>
<circle cx="844.8" cy="1159.3" r="3.8" fill="#fff" stroke="#000" stroke-width="1.5"/>
<line x1="879.05" y1="1145.8" x2="879.05" y2="1134.9" stroke="#000" stroke-width="1.5"/>
<line x1="873.6" y1="1134.9" x2="887.1" y2="1134.9" stroke="#000" stroke-width="1.5"/>
<rect x="862.9" y="1145.8" width="32.3" height="38" fill="#E0220A" stroke="#000" stroke-width="1.6"/>
<circle cx="871.3" cy="1135.7" r="3.8" fill="#fff" stroke="#000" stroke-width="1.5"/>
<circle cx="886.5" cy="1142.9" r="3.8" fill="#fff" stroke="#000" stroke-width="1.5"/>
<circle cx="878.8" cy="1155.6" r="3.8" fill="#fff" stroke="#000" stroke-width="1.5"/>
<line x1="920.1" y1="1152.7" x2="920.1" y2="1131.4" stroke="#000" stroke-width="1.5"/>
<line x1="912.5" y1="1131.4" x2="928.3" y2="1131.4" stroke="#000" stroke-width="1.5"/>
<rect x="903.8" y="1152.7" width="32.6" height="31.1" fill="#1A2DF0" stroke="#000" stroke-width="1.6"/>
<circle cx="912.5" cy="1137.2" r="3.8" fill="#fff" stroke="#000" stroke-width="1.5"/>
<circle cx="928.3" cy="1142.6" r="3.8" fill="#fff" stroke="#000" stroke-width="1.5"/>
<circle cx="920.5" cy="1176" r="3.8" fill="#fff" stroke="#000" stroke-width="1.5"/>
<line x1="961.7" y1="1161.6" x2="961.7" y2="1148.7" stroke="#000" stroke-width="1.5"/>
<line x1="952.8" y1="1148.7" x2="968.6" y2="1148.7" stroke="#000" stroke-width="1.5"/>
<rect x="945.6" y="1161.6" width="32.2" height="22.2" fill="#B888DC" stroke="#000" stroke-width="1.6"/>
<circle cx="954.2" cy="1150.7" r="3.8" fill="#fff" stroke="#000" stroke-width="1.5"/>
<circle cx="970" cy="1157.9" r="3.8" fill="#fff" stroke="#000" stroke-width="1.5"/>
<circle cx="962.3" cy="1173.7" r="3.8" fill="#fff" stroke="#000" stroke-width="1.5"/>
<polyline points="638,1189.6 638,1199.7 807.9,1199.7 807.9,1189.6" fill="none" stroke="#000" stroke-width="1.8"/>
<polyline points="815.4,1189.6 815.4,1199.7 985.9,1199.7 985.9,1189.6" fill="none" stroke="#000" stroke-width="1.8"/>
<text transform="translate(701.7,1232.8) scale(1,1.05)" font-size="25.2" stroke="#000" stroke-width="0.45">IR-1</text>
<text transform="translate(864.4,1230) scale(1,1.05)" font-size="25.2" stroke="#000" stroke-width="0.45">Mut IR-1</text>
<text transform="translate(660.5,1038.5) rotate(-90) scale(1,1.05)" font-size="20.3" stroke="#000" stroke-width="0.45"><tspan font-style="italic">P</tspan>=0.0006</text>
<text transform="translate(762.7,1022.5) rotate(-90) scale(1,1.05)" font-size="20.3" stroke="#000" stroke-width="0.45"><tspan font-style="italic">P</tspan>=0.0231</text>
<text transform="translate(803.2,1005.4) rotate(-90) scale(1,1.05)" font-size="20.3" stroke="#000" stroke-width="0.45"><tspan font-style="italic">P</tspan>=0.0057</text>
<text transform="translate(863.5,1110.5) rotate(-90) scale(1,1.05)" font-size="20.3" stroke="#000" stroke-width="0.45"><tspan font-style="italic">P</tspan>=0.5816</text>
<text transform="translate(909.6,1110.5) rotate(-90) scale(1,1.05)" font-size="20.3" stroke="#000" stroke-width="0.45"><tspan font-style="italic">P</tspan>=0.8327</text>
<text transform="translate(977.3,1117.1) rotate(-90) scale(1,1.05)" font-size="20.3" stroke="#000" stroke-width="0.45"><tspan font-style="italic">P</tspan>=0.3167</text>
<text transform="translate(1225.9,768.9) scale(1,1.05)" font-size="29.3" stroke="#000" stroke-width="0.45">SHP</text>
<polyline points="1113,1001 1113,836.3 1148.4,836.3 1148.4,850.4" fill="none" stroke="#222" stroke-width="1.4"/>
<polyline points="1158.1,850.4 1158.1,836.3 1194.6,836.3 1194.6,977" fill="none" stroke="#222" stroke-width="1.4"/>
<polyline points="1156.2,828.5 1156.2,801 1233,801 1233,1047.8" fill="none" stroke="#222" stroke-width="1.4"/>
<polyline points="1286.3,1119.6 1286.3,1085.4 1323.5,1085.4 1323.5,1098" fill="none" stroke="#222" stroke-width="1.4"/>
<polyline points="1331.9,1099.3 1331.9,1085.4 1369,1085.4 1369,1102.9" fill="none" stroke="#222" stroke-width="1.4"/>
<polyline points="1329,1099.3 1329,959.9 1407.3,959.9 1407.3,1137.6" fill="none" stroke="#222" stroke-width="1.4"/>
<line x1="1078.5" y1="831.25" x2="1078.5" y2="1183.8" stroke="#000" stroke-width="1.6"/>
<line x1="1069" y1="1183.8" x2="1444.4" y2="1183.8" stroke="#000" stroke-width="1.6"/>
<line x1="1069" y1="832.05" x2="1078.5" y2="832.05" stroke="#000" stroke-width="1.6"/>
<text transform="translate(1064.8,839.95) scale(1,1.05)" font-size="25.2" text-anchor="end" stroke="#000" stroke-width="0.45">25</text>
<line x1="1069" y1="902.4" x2="1078.5" y2="902.4" stroke="#000" stroke-width="1.6"/>
<text transform="translate(1064.8,910.3) scale(1,1.05)" font-size="25.2" text-anchor="end" stroke="#000" stroke-width="0.45">20</text>
<line x1="1069" y1="972.75" x2="1078.5" y2="972.75" stroke="#000" stroke-width="1.6"/>
<text transform="translate(1064.8,980.65) scale(1,1.05)" font-size="25.2" text-anchor="end" stroke="#000" stroke-width="0.45">15</text>
<line x1="1069" y1="1043.1" x2="1078.5" y2="1043.1" stroke="#000" stroke-width="1.6"/>
<text transform="translate(1064.8,1051) scale(1,1.05)" font-size="25.2" text-anchor="end" stroke="#000" stroke-width="0.45">10</text>
<line x1="1069" y1="1113.45" x2="1078.5" y2="1113.45" stroke="#000" stroke-width="1.6"/>
<text transform="translate(1064.8,1121.35) scale(1,1.05)" font-size="25.2" text-anchor="end" stroke="#000" stroke-width="0.45">5</text>
<line x1="1069" y1="1183.8" x2="1078.5" y2="1183.8" stroke="#000" stroke-width="1.6"/>
<text transform="translate(1064.8,1191.7) scale(1,1.05)" font-size="25.2" text-anchor="end" stroke="#000" stroke-width="0.45">0</text>
<line x1="1111.45" y1="1034.6" x2="1111.45" y2="1010" stroke="#000" stroke-width="1.5"/>
<line x1="1103.1" y1="1010" x2="1119.9" y2="1010" stroke="#000" stroke-width="1.5"/>
<rect x="1095.4" y="1034.6" width="32.1" height="149.2" fill="#19C4D3" stroke="#000" stroke-width="1.6"/>
<circle cx="1111.5" cy="1009.5" r="3.8" fill="#fff" stroke="#000" stroke-width="1.5"/>
<circle cx="1111.5" cy="1036.5" r="3.8" fill="#fff" stroke="#000" stroke-width="1.5"/>
<circle cx="1111.5" cy="1057.4" r="3.8" fill="#fff" stroke="#000" stroke-width="1.5"/>
<line x1="1153.15" y1="925.8" x2="1153.15" y2="867.4" stroke="#000" stroke-width="1.5"/>
<line x1="1144.7" y1="867.4" x2="1161.8" y2="867.4" stroke="#000" stroke-width="1.5"/>
<rect x="1137.1" y="925.8" width="32.1" height="258" fill="#E0220A" stroke="#000" stroke-width="1.6"/>
<circle cx="1153.3" cy="858.4" r="3.8" fill="#fff" stroke="#000" stroke-width="1.5"/>
<circle cx="1153.3" cy="951.1" r="3.8" fill="#fff" stroke="#000" stroke-width="1.5"/>
<circle cx="1153.3" cy="967.1" r="3.8" fill="#fff" stroke="#000" stroke-width="1.5"/>
<line x1="1194.5" y1="1014.7" x2="1194.5" y2="991" stroke="#000" stroke-width="1.5"/>
<line x1="1186.2" y1="991" x2="1203.2" y2="991" stroke="#000" stroke-width="1.5"/>
<rect x="1178.6" y="1014.7" width="31.8" height="169.1" fill="#1A2DF0" stroke="#000" stroke-width="1.6"/>
<circle cx="1187" cy="998.2" r="3.8" fill="#fff" stroke="#000" stroke-width="1.5"/>
<circle cx="1202.5" cy="1004.2" r="3.8" fill="#fff" stroke="#000" stroke-width="1.5"/>
<circle cx="1194.6" cy="1041.1" r="3.8" fill="#fff" stroke="#000" stroke-width="1.5"/>
<line x1="1236.05" y1="1094" x2="1236.05" y2="1057.8" stroke="#000" stroke-width="1.5"/>
<line x1="1227.7" y1="1057.8" x2="1244.4" y2="1057.8" stroke="#000" stroke-width="1.5"/>
<rect x="1220" y="1094" width="32.1" height="89.8" fill="#B888DC" stroke="#000" stroke-width="1.6"/>
<circle cx="1228.4" cy="1069.8" r="3.8" fill="#fff" stroke="#000" stroke-width="1.5"/>
<circle cx="1244" cy="1076" r="3.8" fill="#fff" stroke="#000" stroke-width="1.5"/>
<circle cx="1236" cy="1134.5" r="3.8" fill="#fff" stroke="#000" stroke-width="1.5"/>
<line x1="1285.75" y1="1153.7" x2="1285.75" y2="1130.9" stroke="#000" stroke-width="1.5"/>
<line x1="1278" y1="1130.9" x2="1293.5" y2="1130.9" stroke="#000" stroke-width="1.5"/>
<rect x="1269.6" y="1153.7" width="32.3" height="30.1" fill="#19C4D3" stroke="#000" stroke-width="1.6"/>
<circle cx="1285.9" cy="1129.2" r="3.8" fill="#fff" stroke="#000" stroke-width="1.5"/>
<circle cx="1285.9" cy="1158" r="3.8" fill="#fff" stroke="#000" stroke-width="1.5"/>
<circle cx="1285.9" cy="1172.8" r="3.8" fill="#fff" stroke="#000" stroke-width="1.5"/>
<line x1="1327.2" y1="1128" x2="1327.2" y2="1104" stroke="#000" stroke-width="1.5"/>
<line x1="1319.2" y1="1104" x2="1335.4" y2="1104" stroke="#000" stroke-width="1.5"/>
<rect x="1311" y="1128" width="32.4" height="55.8" fill="#E0220A" stroke="#000" stroke-width="1.6"/>
<circle cx="1327.5" cy="1109.3" r="3.8" fill="#fff" stroke="#000" stroke-width="1.5"/>
<circle cx="1327.5" cy="1118.4" r="3.8" fill="#fff" stroke="#000" stroke-width="1.5"/>
<circle cx="1327.5" cy="1154.4" r="3.8" fill="#fff" stroke="#000" stroke-width="1.5"/>
<line x1="1368.85" y1="1142.9" x2="1368.85" y2="1116" stroke="#000" stroke-width="1.5"/>
<line x1="1360.6" y1="1116" x2="1377.4" y2="1116" stroke="#000" stroke-width="1.5"/>
<rect x="1352.7" y="1142.9" width="32.3" height="40.9" fill="#1A2DF0" stroke="#000" stroke-width="1.6"/>
<circle cx="1369" cy="1112.9" r="3.8" fill="#fff" stroke="#000" stroke-width="1.5"/>
<circle cx="1369" cy="1150" r="3.8" fill="#fff" stroke="#000" stroke-width="1.5"/>
<circle cx="1369" cy="1163.2" r="3.8" fill="#fff" stroke="#000" stroke-width="1.5"/>
<line x1="1410.3" y1="1155.1" x2="1410.3" y2="1149.1" stroke="#000" stroke-width="1.5"/>
<line x1="1402.5" y1="1149.1" x2="1418.6" y2="1149.1" stroke="#000" stroke-width="1.5"/>
<rect x="1394.1" y="1155.1" width="32.4" height="28.7" fill="#B888DC" stroke="#000" stroke-width="1.6"/>
<circle cx="1410.2" cy="1147.9" r="3.8" fill="#fff" stroke="#000" stroke-width="1.5"/>
<circle cx="1402.5" cy="1158.4" r="3.8" fill="#fff" stroke="#000" stroke-width="1.5"/>
<circle cx="1418.1" cy="1157.2" r="3.8" fill="#fff" stroke="#000" stroke-width="1.5"/>
<polyline points="1088,1187.9 1088,1198 1258.8,1198 1258.8,1187.9" fill="none" stroke="#000" stroke-width="1.8"/>
<polyline points="1266,1187.9 1266,1198 1436,1198 1436,1187.9" fill="none" stroke="#000" stroke-width="1.8"/>
<text transform="translate(1153.3,1231) scale(1,1.05)" font-size="25.2" stroke="#000" stroke-width="0.45">IR-1</text>
<text transform="translate(1315.5,1227.4) scale(1,1.05)" font-size="25.2" stroke="#000" stroke-width="0.45">Mut IR-1</text>
<text transform="translate(1109.5,971.1) rotate(-90) scale(1,1.05)" font-size="20.3" stroke="#000" stroke-width="0.45"><tspan font-style="italic">P</tspan>=0.0097</text>
<text transform="translate(1212.1,956.5) rotate(-90) scale(1,1.05)" font-size="20.3" stroke="#000" stroke-width="0.45"><tspan font-style="italic">P</tspan>=0.0308</text>
<text transform="translate(1251.8,988.1) rotate(-90) scale(1,1.05)" font-size="20.3" stroke="#000" stroke-width="0.45"><tspan font-style="italic">P</tspan>=0.0004</text>
<text transform="translate(1312,1080.5) rotate(-90) scale(1,1.05)" font-size="20.3" stroke="#000" stroke-width="0.45"><tspan font-style="italic">P</tspan>=0.3191</text>
<text transform="translate(1357,1080.5) rotate(-90) scale(1,1.05)" font-size="20.3" stroke="#000" stroke-width="0.45"><tspan font-style="italic">P</tspan>=0.7485</text>
<text transform="translate(1425.3,1096) rotate(-90) scale(1,1.05)" font-size="20.3" stroke="#000" stroke-width="0.45"><tspan font-style="italic">P</tspan>=0.2848</text>
<rect x="1495.6" y="894.8" width="47.9" height="24.3" fill="#19C4D3" stroke="#000" stroke-width="2"/>
<rect x="1495.6" y="935.9" width="47.9" height="24.1" fill="#E0220A" stroke="#200005" stroke-width="2"/>
<rect x="1495.6" y="977.4" width="47.9" height="24.3" fill="#1A2DF0" stroke="#000030" stroke-width="2"/>
<rect x="1495.6" y="1018.5" width="47.9" height="24.1" fill="#B888DC" stroke="#100020" stroke-width="2"/>
<text transform="translate(1549.6,915.9) scale(1,1.05)" font-size="25.3" stroke="#000" stroke-width="0.45">Carrier only</text>
<text transform="translate(1549.6,960) scale(1,1.05)" font-size="25.3" stroke="#000" stroke-width="0.45">FXR activation (CDCA)</text>
<text transform="translate(1549.6,1001.3) scale(1,1.05)" font-size="25.3" stroke="#000" stroke-width="0.45">FXR inhibition (CDCA+UDCA)</text>
<text transform="translate(1549.6,1042.6) scale(1,1.05)" font-size="25.3" stroke="#000" stroke-width="0.45">FXR inhibition (CDCA+ZGG)</text>
<defs>
<filter id="b4" x="-50%" y="-50%" width="200%" height="200%"><feGaussianBlur stdDeviation="4"/></filter>
<filter id="b3" x="-50%" y="-50%" width="200%" height="200%"><feGaussianBlur stdDeviation="3"/></filter>
<filter id="b5" x="-50%" y="-50%" width="200%" height="200%"><feGaussianBlur stdDeviation="5"/></filter>
<filter id="b8" x="-50%" y="-50%" width="200%" height="200%"><feGaussianBlur stdDeviation="8"/></filter>
<filter id="b12" x="-50%" y="-50%" width="200%" height="200%"><feGaussianBlur stdDeviation="12"/></filter>
<clipPath id="clipA1"><rect x="45" y="95" width="294" height="294.5"/></clipPath>
<clipPath id="clipA2"><rect x="43" y="395" width="294.3" height="294"/></clipPath>
<clipPath id="clipI1"><rect x="45.2" y="95.2" width="96.6" height="97.3"/></clipPath>
<clipPath id="clipI2"><rect x="42.7" y="395" width="97.1" height="97.6"/></clipPath>
<radialGradient id="gI1" cx="0.45" cy="0.55" r="0.7"><stop offset="0" stop-color="#7a0a9a"/><stop offset="0.6" stop-color="#3a0a70"/><stop offset="1" stop-color="#08041a"/></radialGradient>
<radialGradient id="gI2" cx="0.5" cy="0.45" r="0.75"><stop offset="0" stop-color="#0c0ca0"/><stop offset="0.7" stop-color="#08087e"/><stop offset="1" stop-color="#060668"/></radialGradient>
</defs>
<g clip-path="url(#clipA1)">
<rect x="45" y="95" width="294" height="294.5" fill="#000" stroke="none" stroke-width="0"/>
<path d="M290,88 C275.83,93.33 270,109.67 260,120 C250,130.33 240,139.17 230,150 C220,160.83 208.33,174.17 200,185 C191.67,195.83 186.67,204.17 180,215 C173.33,225.83 166.67,237.5 160,250 C153.33,262.5 146.67,276.67 140,290 C133.33,303.33 126.67,316.67 120,330 C113.33,343.33 105,358 100,370 C95,382 82.17,396.67 90,402 C97.83,407.33 137.5,404.67 147,402 C156.5,399.33 145.33,392.75 147,386 C148.67,379.25 152.83,369.7 157,361.5 C161.17,353.3 166.17,345.05 172,336.8 C177.83,328.55 186.17,320.23 192,312 C197.83,303.77 202.17,295.6 207,287.4 C211.83,279.2 216.5,271.03 221,262.8 C225.5,254.57 229.33,246.23 234,238 C238.67,229.77 244,221.62 249,213.4 C254,205.18 258.5,195.93 264,188.7 C269.5,181.47 275.67,175.12 282,170 C288.33,164.88 291.5,163 302,158 C312.5,153 337.83,151.67 345,140 C352.17,128.33 354.17,96.67 345,88 C335.83,79.33 304.17,82.67 290,88Z" fill="#0b6a0b" filter="url(#b8)"/>
<path d="M241,88 C220.08,92.45 227,106.13 219.5,114.7 C212,123.27 204,131.18 196,139.4 C188,147.62 178.08,155.78 171.5,164 C164.92,172.22 162.25,180.47 156.5,188.7 C150.75,196.93 142.75,205.18 137,213.4 C131.25,221.62 126.57,229.77 122,238 C117.43,246.23 113.93,254.57 109.6,262.8 C105.27,271.03 101.27,279.2 96,287.4 C90.73,295.6 82.67,303.77 78,312 C73.33,320.23 71.33,328.55 68,336.8 C64.67,345.05 60.92,353.3 58,361.5 C55.08,369.7 52.33,379.25 50.5,386 C48.67,392.75 33.58,399.33 47,402 C60.42,404.67 117.08,404.67 131,402 C144.92,399.33 128.92,392.75 130.5,386 C132.08,379.25 136.42,369.7 140.5,361.5 C144.58,353.3 149.25,345.05 155,336.8 C160.75,328.55 169.17,320.23 175,312 C180.83,303.77 185.08,295.6 190,287.4 C194.92,279.2 200,271.03 204.5,262.8 C209,254.57 212.42,246.23 217,238 C221.58,229.77 227.08,221.62 232,213.4 C236.92,205.18 241.17,196.93 246.5,188.7 C251.83,180.47 257.58,170.62 264,164 C270.42,157.38 271.5,155.5 285,149 C298.5,142.5 335,135.17 345,125 C355,114.83 362.33,94.17 345,88 C327.67,81.83 261.92,83.55 241,88Z" fill="#0e900e" filter="url(#b4)"/>
<path d="M250,92 C230.5,96.67 235.5,110.33 228,120 C220.5,129.67 212.67,140.33 205,150 C197.33,159.67 189.5,168 182,178 C174.5,188 166.67,198.83 160,210 C153.33,221.17 147.83,233.33 142,245 C136.17,256.67 131,267.83 125,280 C119,292.17 112.17,305.5 106,318 C99.83,330.5 93,341.33 88,355 C83,368.67 72,392.5 76,400 C80,407.5 104.33,407.5 112,400 C119.67,392.5 117.33,368.67 122,355 C126.67,341.33 133.67,330.5 140,318 C146.33,305.5 153,292.17 160,280 C167,267.83 174.5,256.33 182,245 C189.5,233.67 197.33,222.5 205,212 C212.67,201.5 219.67,191 228,182 C236.33,173 243,165.83 255,158 C267,150.17 285,142.67 300,135 C315,127.33 337.5,119.17 345,112 C352.5,104.83 360.83,95.33 345,92 C329.17,88.67 269.5,87.33 250,92Z" fill="#18a818" filter="url(#b8)" opacity="0.85"/>
<ellipse cx="290" cy="104" rx="30" ry="12" fill="#3cc83c" opacity="0.55" filter="url(#b8)"/>
<path d="M242,92 C239,95.5 230.67,105.5 224,113 C217.33,120.5 210,128.83 202,137 C194,145.17 183,153.83 176,162 C169,170.17 165.83,177.83 160,186 C154.17,194.17 146.67,202.67 141,211 C135.33,219.33 130.67,227.67 126,236 C121.33,244.33 117.33,252.67 113,261 C108.67,269.33 105,277.67 100,286 C95,294.33 87.67,302.67 83,311 C78.33,319.33 75.5,327.67 72,336 C68.5,344.33 64.83,352.67 62,361 C59.17,369.33 56.67,379.5 55,386 C53.33,392.5 52.5,397.67 52,400" fill="none" stroke="#38a6b4" stroke-width="9" filter="url(#b3)" opacity="0.75"/>
<circle cx="226" cy="110" r="8" fill="#5a8fe0" opacity="0.6" filter="url(#b3)"/>
<circle cx="207" cy="134" r="8" fill="#6a90e8" opacity="0.55" filter="url(#b3)"/>
<circle cx="186" cy="160" r="8" fill="#5a9ad8" opacity="0.5" filter="url(#b3)"/>
<circle cx="168" cy="183" r="8" fill="#80a8d0" opacity="0.5" filter="url(#b3)"/>
<circle cx="150" cy="207" r="7" fill="#7a98d8" opacity="0.5" filter="url(#b3)"/>
<circle cx="135" cy="232" r="7" fill="#7090e0" opacity="0.5" filter="url(#b3)"/>
<circle cx="122" cy="256" r="7" fill="#6a8ae0" opacity="0.5" filter="url(#b3)"/>
<circle cx="110" cy="282" r="7" fill="#6080e0" opacity="0.5" filter="url(#b3)"/>
<circle cx="98" cy="304" r="7" fill="#6080d8" opacity="0.45" filter="url(#b3)"/>
<circle cx="86" cy="328" r="8" fill="#5a70e8" opacity="0.5" filter="url(#b3)"/>
<circle cx="72" cy="352" r="9" fill="#5a78f0" opacity="0.65" filter="url(#b3)"/>
<circle cx="62" cy="378" r="9" fill="#5a78f0" opacity="0.6" filter="url(#b3)"/>
<circle cx="257.2" cy="104.8" r="10" fill="#ff64d0" opacity="0.95" filter="url(#b3)"/>
<circle cx="226.3" cy="125.8" r="9.5" fill="#b868ff" opacity="0.9" filter="url(#b3)"/>
<circle cx="202.9" cy="150.5" r="9.5" fill="#f064c8" opacity="0.9" filter="url(#b3)"/>
<circle cx="185.6" cy="178.8" r="8.5" fill="#e06c6c" opacity="0.8" filter="url(#b3)"/>
<circle cx="151" cy="206" r="6.5" fill="#e080d0" opacity="0.6" filter="url(#b3)"/>
<circle cx="160" cy="216" r="6" fill="#d08080" opacity="0.5" filter="url(#b3)"/>
<circle cx="133.8" cy="223.3" r="6.5" fill="#d080d0" opacity="0.6" filter="url(#b3)"/>
<circle cx="131.3" cy="243" r="7" fill="#d070e0" opacity="0.65" filter="url(#b3)"/>
<circle cx="148" cy="238" r="6" fill="#c08070" opacity="0.45" filter="url(#b3)"/>
<circle cx="111.6" cy="280" r="7.5" fill="#c070d8" opacity="0.75" filter="url(#b3)"/>
<circle cx="93" cy="313.3" r="10" fill="#f050e0" opacity="0.9" filter="url(#b3)"/>
<circle cx="77" cy="346.7" r="10.5" fill="#4c7cf8" opacity="0.9" filter="url(#b3)"/>
<circle cx="64.7" cy="376.3" r="9.5" fill="#6478f0" opacity="0.85" filter="url(#b3)"/>
<g clip-path="url(#clipI1)">
<rect x="45.2" y="95.2" width="96.6" height="97.3" fill="url(#gI1)" stroke="none" stroke-width="0"/>
<path d="M45,95 L80,95 Q62,125 45,150 Z" fill="#04021a" filter="url(#b8)" opacity="0.9"/>
<path d="M90.9,98.3 C92.05,96.35 90.47,96.2 97.8,96.2 C105.13,96.2 128.25,96.82 134.9,98.3 C141.55,99.78 137.7,102.58 137.7,105.1 C137.7,107.62 137.43,109.95 134.9,113.4 C132.37,116.85 125.82,123.05 122.5,125.8 C119.18,128.55 117.28,129.9 115,129.9 C112.72,129.9 111.67,127.87 108.8,125.8 C105.93,123.73 100.78,120.48 97.8,117.5 C94.82,114.52 92.05,111.1 90.9,107.9 C89.75,104.7 89.75,100.25 90.9,98.3Z" fill="#c0108a" filter="url(#b3)"/>
<path d="M59.3,145 C59.77,142.6 60.88,140.7 63.4,136.8 C65.92,132.9 70.97,125.17 74.4,121.6 C77.83,118.03 80.8,116.43 84,115.4 C87.2,114.37 89.02,113.22 93.6,115.4 C98.18,117.58 107.72,124.25 111.5,128.5 C115.28,132.75 115.72,136.55 116.3,140.9 C116.88,145.25 116.25,150.25 115,154.6 C113.75,158.95 111.22,164.47 108.8,167 C106.38,169.53 103.72,169.8 100.5,169.8 C97.28,169.8 96.15,170.1 89.5,167 C82.85,163.9 65.63,154.87 60.6,151.2 C55.57,147.53 58.83,147.4 59.3,145Z" fill="#9a10b8" filter="url(#b3)"/>
<path d="M44,165 C45.63,158.6 51.25,156.67 53.8,154.6 C56.35,152.53 54.72,150.87 59.3,152.6 C63.88,154.33 76.27,161.68 81.3,165 C86.33,168.32 88.37,169.42 89.5,172.5 C90.63,175.58 89.02,180.17 88.1,183.5 C87.18,186.83 91.35,190.92 84,192.5 C76.65,194.08 50.67,197.58 44,193 C37.33,188.42 42.37,171.4 44,165Z" fill="#b010a8" filter="url(#b3)"/>
<circle cx="100" cy="152" r="12" fill="#c01090" opacity="0.5" filter="url(#b5)"/>
<circle cx="120" cy="106" r="10" fill="#d0108a" opacity="0.6" filter="url(#b5)"/>
<circle cx="58" cy="178" r="10" fill="#8a10d0" opacity="0.5" filter="url(#b5)"/>
<path d="M90.9,98.3 C92.05,96.35 90.47,96.2 97.8,96.2 C105.13,96.2 128.25,96.82 134.9,98.3 C141.55,99.78 137.7,102.58 137.7,105.1 C137.7,107.62 137.43,109.95 134.9,113.4 C132.37,116.85 125.82,123.05 122.5,125.8 C119.18,128.55 117.28,129.9 115,129.9 C112.72,129.9 111.67,127.87 108.8,125.8 C105.93,123.73 100.78,120.48 97.8,117.5 C94.82,114.52 92.05,111.1 90.9,107.9 C89.75,104.7 89.75,100.25 90.9,98.3Z" fill="none" stroke="#f08ae8" stroke-width="1.3" stroke-dasharray="1.6 0.8"/>
<path d="M59.3,145 C59.77,142.6 60.88,140.7 63.4,136.8 C65.92,132.9 70.97,125.17 74.4,121.6 C77.83,118.03 80.8,116.43 84,115.4 C87.2,114.37 89.02,113.22 93.6,115.4 C98.18,117.58 107.72,124.25 111.5,128.5 C115.28,132.75 115.72,136.55 116.3,140.9 C116.88,145.25 116.25,150.25 115,154.6 C113.75,158.95 111.22,164.47 108.8,167 C106.38,169.53 103.72,169.8 100.5,169.8 C97.28,169.8 96.15,170.1 89.5,167 C82.85,163.9 65.63,154.87 60.6,151.2 C55.57,147.53 58.83,147.4 59.3,145Z" fill="none" stroke="#f08ae8" stroke-width="1.3" stroke-dasharray="1.6 0.8"/>
<path d="M44,165 C45.63,158.6 51.25,156.67 53.8,154.6 C56.35,152.53 54.72,150.87 59.3,152.6 C63.88,154.33 76.27,161.68 81.3,165 C86.33,168.32 88.37,169.42 89.5,172.5 C90.63,175.58 89.02,180.17 88.1,183.5 C87.18,186.83 91.35,190.92 84,192.5 C76.65,194.08 50.67,197.58 44,193 C37.33,188.42 42.37,171.4 44,165Z" fill="none" stroke="#f08ae8" stroke-width="1.3" stroke-dasharray="1.6 0.8"/>
</g>
<rect x="45.6" y="95.6" width="95.8" height="96.5" fill="none" stroke="#f2f2f2" stroke-width="1.4" stroke-dasharray="4.5 3"/>
<rect x="121" y="196" width="59.9" height="59" fill="none" stroke="#f2f2f2" stroke-width="1.4" stroke-dasharray="4.5 3"/>
<line x1="232.7" y1="374.2" x2="333.2" y2="374.2" stroke="#a8a8a8" stroke-width="2.6"/>
</g>
<g clip-path="url(#clipA2)">
<rect x="43" y="395" width="294.3" height="294" fill="#000" stroke="none" stroke-width="0"/>
<path d="M300,388 C286.33,392.5 271.67,404.67 260,415 C248.33,425.33 238.33,437.5 230,450 C221.67,462.5 216.67,476.67 210,490 C203.33,503.33 196.33,515.83 190,530 C183.67,544.17 177,560 172,575 C167,590 162.83,605.83 160,620 C157.17,634.17 155,646.33 155,660 C155,673.67 149.17,695 160,702 C170.83,709 210.67,708.75 220,702 C229.33,695.25 218.33,672.37 216,661.5 C213.67,650.63 208.17,645.05 206,636.8 C203.83,628.55 202.67,620.23 203,612 C203.33,603.77 206.33,595.6 208,587.4 C209.67,579.2 210.67,571.03 213,562.8 C215.33,554.57 218.83,546.23 222,538 C225.17,529.77 228.5,520.57 232,513.4 C235.5,506.23 238,500.57 243,495 C248,489.43 255.5,484.17 262,480 C268.5,475.83 274.83,472.83 282,470 C289.17,467.17 295,465 305,463 C315,461 335.83,470.5 342,458 C348.17,445.5 349,399.67 342,388 C335,376.33 313.67,383.5 300,388Z" fill="#0a640a" filter="url(#b8)"/>
<path d="M268,388 C254.17,389.33 264,393 259,396 C254,399 243.57,402.67 238,406 C232.43,409.33 231.37,410.33 225.6,416 C219.83,421.67 209.57,431.83 203.4,440 C197.23,448.17 193.53,456.83 188.6,465 C183.67,473.17 177.9,480.93 173.8,489 C169.7,497.07 167.3,505.23 164,513.4 C160.7,521.57 157.72,529.77 154,538 C150.28,546.23 144.98,554.57 141.7,562.8 C138.42,571.03 136.75,579.2 134.3,587.4 C131.85,595.6 128.85,603.77 127,612 C125.15,620.23 124.03,628.55 123.2,636.8 C122.37,645.05 121.37,652.87 122,661.5 C122.63,670.13 125.83,681.85 127,688.6 C128.17,695.35 116,699.77 129,702 C142,704.23 192.83,708.75 205,702 C217.17,695.25 204.17,672.37 202,661.5 C199.83,650.63 194,645.05 192,636.8 C190,628.55 189.5,620.23 190,612 C190.5,603.77 193.33,595.6 195,587.4 C196.67,579.2 197.53,571.03 200,562.8 C202.47,554.57 206.53,546.23 209.8,538 C213.07,529.77 216.23,521.4 219.6,513.4 C222.97,505.4 224.6,496.9 230,490 C235.4,483.1 245,476.67 252,472 C259,467.33 264,465.33 272,462 C280,458.67 288.33,454.67 300,452 C311.67,449.33 335,456.67 342,446 C349,435.33 354.33,397.67 342,388 C329.67,378.33 281.83,386.67 268,388Z" fill="#0d8c0d" filter="url(#b4)"/>
<path d="M262,398 C243.67,401.33 241,410.17 232,418 C223,425.83 214.33,435.5 208,445 C201.67,454.5 198.67,465 194,475 C189.33,485 184.67,494.17 180,505 C175.33,515.83 170.67,527.5 166,540 C161.33,552.5 156,565.83 152,580 C148,594.17 144.33,605 142,625 C139.67,645 131.67,687.5 138,700 C144.33,712.5 174.33,710 180,700 C185.67,690 172.83,656.67 172,640 C171.17,623.33 172.67,613.33 175,600 C177.33,586.67 182.17,573.33 186,560 C189.83,546.67 193.33,531.67 198,520 C202.67,508.33 207,499.67 214,490 C221,480.33 229,470.33 240,462 C251,453.67 263,447 280,440 C297,433 331.67,427 342,420 C352.33,413 355.33,401.67 342,398 C328.67,394.33 280.33,394.67 262,398Z" fill="#16a416" filter="url(#b8)" opacity="0.75"/>
<ellipse cx="150" cy="690" rx="25" ry="14" fill="#30d030" opacity="0.6" filter="url(#b8)"/>
<ellipse cx="193" cy="501" rx="13.5" ry="14.5" fill="#2468ff" opacity="0.95" filter="url(#b3)"/>
<ellipse cx="168.3" cy="543" rx="13.5" ry="14" fill="#2466ff" opacity="0.92" filter="url(#b3)"/>
<ellipse cx="150" cy="585" rx="15.5" ry="15" fill="#2464ff" opacity="0.92" filter="url(#b3)"/>
<ellipse cx="134.5" cy="627" rx="13" ry="13.5" fill="#2262ff" opacity="0.88" filter="url(#b3)"/>
<ellipse cx="134.5" cy="661.5" rx="13" ry="14" fill="#2262ff" opacity="0.92" filter="url(#b3)"/>
<ellipse cx="212.8" cy="461.6" rx="11.5" ry="12" fill="#2466ff" opacity="0.92" filter="url(#b3)"/>
<ellipse cx="237.4" cy="444.3" rx="11.5" ry="12" fill="#2466ff" opacity="0.92" filter="url(#b3)"/>
<ellipse cx="274.5" cy="424.6" rx="12" ry="11" fill="#1a48c0" opacity="0.7" filter="url(#b3)"/>
<ellipse cx="299" cy="414.7" rx="12" ry="11" fill="#1a48c0" opacity="0.65" filter="url(#b3)"/>
<ellipse cx="323.8" cy="427" rx="12" ry="12" fill="#1a48c0" opacity="0.65" filter="url(#b3)"/>
<ellipse cx="306.5" cy="444.3" rx="12" ry="10" fill="#12308a" opacity="0.65" filter="url(#b3)"/>
<ellipse cx="269.5" cy="488.7" rx="10" ry="11" fill="#102a90" opacity="0.6" filter="url(#b3)"/>
<ellipse cx="252" cy="436" rx="9" ry="9" fill="#1a50d0" opacity="0.65" filter="url(#b3)"/>
<g clip-path="url(#clipI2)">
<rect x="42.7" y="395" width="97.1" height="97.6" fill="#02020e" stroke="none" stroke-width="0"/>
<ellipse cx="98" cy="452" rx="62" ry="62" fill="#0a0a96" filter="url(#b12)"/>
<ellipse cx="112" cy="470" rx="40" ry="30" fill="#0c0c88" filter="url(#b8)"/>
<path d="M45.3,457.7 C46.17,451.22 47.7,443.62 51.8,439.5 C55.9,435.38 64.73,433 69.9,433 C75.07,433 79.57,434.53 82.8,439.5 C86.03,444.47 88.87,455.88 89.3,462.8 C89.73,469.72 89.07,476.25 85.4,481 C81.73,485.75 72.7,489.8 67.3,491.3 C61.9,492.8 56.45,492.15 53,490 C49.55,487.85 47.88,483.78 46.6,478.4 C45.32,473.02 44.43,464.18 45.3,457.7Z" fill="#1414e8" filter="url(#b3)"/>
<path d="M77.7,430.5 C77.48,425.75 81.95,421.82 85.4,418.8 C88.85,415.78 94.73,412.4 98.4,412.4 C102.07,412.4 105.25,413.87 107.4,418.8 C109.55,423.73 111.93,435.97 111.3,442 C110.67,448.03 105.97,452.38 103.6,455 C101.23,457.62 99.92,458.98 97.1,457.7 C94.28,456.42 89.93,451.83 86.7,447.3 C83.47,442.77 77.92,435.25 77.7,430.5Z" fill="#1010d0" filter="url(#b3)"/>
<path d="M95.8,403.3 C97.73,400.7 103.95,398.1 108.7,398.1 C113.45,398.1 119.55,399.42 124.3,403.3 C129.05,407.18 135.27,415.37 137.2,421.4 C139.13,427.43 137.62,434.53 135.9,439.5 C134.18,444.47 129.7,449.68 126.9,451.2 C124.1,452.72 122.13,451.83 119.1,448.6 C116.07,445.37 112.37,437.62 108.7,431.8 C105.03,425.98 99.25,418.45 97.1,413.7 C94.95,408.95 93.87,405.9 95.8,403.3Z" fill="#1414f0" filter="url(#b3)"/>
<circle cx="62" cy="462" r="13" fill="#1c1cff" opacity="0.85" filter="url(#b5)"/>
<circle cx="118" cy="420" r="12" fill="#1c1cff" opacity="0.85" filter="url(#b5)"/>
<circle cx="95" cy="436" r="7" fill="#1c1cff" opacity="0.85" filter="url(#b5)"/>
<path d="M45.3,457.7 C46.17,451.22 47.7,443.62 51.8,439.5 C55.9,435.38 64.73,433 69.9,433 C75.07,433 79.57,434.53 82.8,439.5 C86.03,444.47 88.87,455.88 89.3,462.8 C89.73,469.72 89.07,476.25 85.4,481 C81.73,485.75 72.7,489.8 67.3,491.3 C61.9,492.8 56.45,492.15 53,490 C49.55,487.85 47.88,483.78 46.6,478.4 C45.32,473.02 44.43,464.18 45.3,457.7Z" fill="none" stroke="#a8a8ff" stroke-width="1.2" stroke-dasharray="2 0.6"/>
<path d="M77.7,430.5 C77.48,425.75 81.95,421.82 85.4,418.8 C88.85,415.78 94.73,412.4 98.4,412.4 C102.07,412.4 105.25,413.87 107.4,418.8 C109.55,423.73 111.93,435.97 111.3,442 C110.67,448.03 105.97,452.38 103.6,455 C101.23,457.62 99.92,458.98 97.1,457.7 C94.28,456.42 89.93,451.83 86.7,447.3 C83.47,442.77 77.92,435.25 77.7,430.5Z" fill="none" stroke="#a8a8ff" stroke-width="1.2" stroke-dasharray="2 0.6"/>
<path d="M95.8,403.3 C97.73,400.7 103.95,398.1 108.7,398.1 C113.45,398.1 119.55,399.42 124.3,403.3 C129.05,407.18 135.27,415.37 137.2,421.4 C139.13,427.43 137.62,434.53 135.9,439.5 C134.18,444.47 129.7,449.68 126.9,451.2 C124.1,452.72 122.13,451.83 119.1,448.6 C116.07,445.37 112.37,437.62 108.7,431.8 C105.03,425.98 99.25,418.45 97.1,413.7 C94.95,408.95 93.87,405.9 95.8,403.3Z" fill="none" stroke="#a8a8ff" stroke-width="1.2" stroke-dasharray="2 0.6"/>
</g>
<rect x="43.2" y="395.4" width="96.2" height="96.8" fill="none" stroke="#f2f2f2" stroke-width="1.4" stroke-dasharray="4.5 3"/>
<rect x="197.3" y="425.3" width="59.8" height="59.6" fill="none" stroke="#f2f2f2" stroke-width="1.4" stroke-dasharray="4.5 3"/>
<line x1="230.4" y1="674.4" x2="331.4" y2="674.4" stroke="#a8a8a8" stroke-width="2.6"/>
</g>
<text transform="translate(38,343.2) rotate(-90) scale(1,1.05)" font-size="29.3" stroke="#000" stroke-width="0.45">Control shRNA</text>
<text transform="translate(33.7,651.5) rotate(-90) scale(1,1.05)" font-size="29.3" stroke="#000" stroke-width="0.45">FXR knockdown</text>
</svg>
</body></html>
